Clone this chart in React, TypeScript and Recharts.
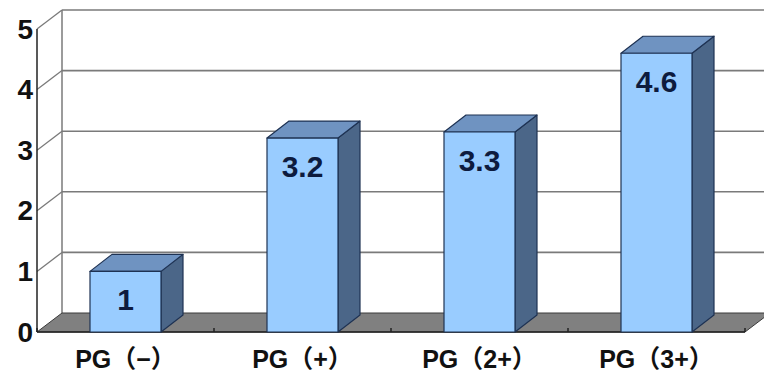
import React from "react";
import { BarChart, Bar, XAxis, YAxis, CartesianGrid, LabelList } from "recharts";

// values
const categories = ["PG（−）", "PG（+）", "PG（2+）", "PG（3+）"];
const values = [1, 3.2, 3.3, 4.6];
const yTicks = [0, 1, 2, 3, 4, 5];

const data = categories.map((name, i) => ({ name, value: values[i] }));

const W = 764;
const H = 376;
const MARGIN = { top: 29, right: 19, bottom: 0, left: 0 };
const X_AXIS_H = 44;

// depth offsets (back wall vs. bars)
const WALL_DX = 25;
const WALL_DY = 19;
const BAR_DX = 22;
const BAR_DY = 17;

const COLORS = {
  front: "#99ccff",
  top: "#6f93c1",
  side: "#4b6688",
  edge: "#1e3253",
  grid: "#7a7a7a",
  floor: "#808080",
  floorEdge: "#3a3a3a",
  label: "#0d1b3e",
};

const FONT = "'Liberation Sans', 'Noto Sans CJK JP', Arial, sans-serif";

const PLOT_TOP = MARGIN.top;
const PLOT_BOTTOM = H - MARGIN.bottom - X_AXIS_H;

// back wall grid line + connector to front axis; floor on the zero line
const GridLine = (props: any) => {
  const { x1, y1, x2, y2 } = props;
  const isFloor = Math.abs(y1 - PLOT_BOTTOM) < 1;
  if (isFloor) {
    const n = categories.length;
    const step = (x2 - x1) / n;
    return (
      <g>
        <line
          x1={x1 + WALL_DX}
          y1={PLOT_TOP - WALL_DY}
          x2={x1 + WALL_DX}
          y2={y1 - WALL_DY}
          stroke={COLORS.grid}
          strokeWidth={1.5}
        />
        <polygon
          points={`${x1},${y1} ${x2},${y2} ${x2 + WALL_DX},${y2 - WALL_DY} ${x1 + WALL_DX},${y1 - WALL_DY}`}
          fill={COLORS.floor}
          stroke={COLORS.floorEdge}
          strokeWidth={1}
        />
        <line x1={x1} y1={y1} x2={x2} y2={y2} stroke="#222" strokeWidth={1.5} />
        {Array.from({ length: n + 1 }, (_, i) => (
          <line
            key={i}
            x1={x1 + i * step}
            y1={y1}
            x2={x1 + i * step}
            y2={y1 - 4}
            stroke="#222"
            strokeWidth={1.5}
          />
        ))}
      </g>
    );
  }
  return (
    <g>
      <line
        x1={x1 + WALL_DX}
        y1={y1 - WALL_DY}
        x2={x2 + WALL_DX}
        y2={y2 - WALL_DY}
        stroke={COLORS.grid}
        strokeWidth={1.6}
      />
      <line
        x1={x1}
        y1={y1}
        x2={x1 + WALL_DX}
        y2={y1 - WALL_DY}
        stroke={COLORS.grid}
        strokeWidth={1.3}
      />
    </g>
  );
};

const Bar3D = (props: any) => {
  const { x, y, width, height } = props;
  const r = x + width;
  const b = y + height;
  return (
    <g stroke={COLORS.edge} strokeWidth={1.2} strokeLinejoin="round">
      <polygon
        points={`${r},${y} ${r + BAR_DX},${y - BAR_DY} ${r + BAR_DX},${b - BAR_DY} ${r},${b}`}
        fill={COLORS.side}
      />
      <polygon
        points={`${x},${y} ${x + BAR_DX},${y - BAR_DY} ${r + BAR_DX},${y - BAR_DY} ${r},${y}`}
        fill={COLORS.top}
      />
      <rect x={x} y={y} width={width} height={height} fill={COLORS.front} />
    </g>
  );
};

const ValueLabel = (props: any) => {
  const { x, y, width, value } = props;
  return (
    <text
      x={x + width / 2}
      y={y + 28}
      textAnchor="middle"
      dominantBaseline="central"
      fill={COLORS.label}
      fontFamily={FONT}
      fontWeight="bold"
      fontSize={30}
    >
      {value}
    </text>
  );
};

const XTick = (props: any) => {
  const { x, y, payload } = props;
  return (
    <text
      x={x}
      y={y + 19}
      textAnchor="middle"
      dominantBaseline="central"
      fill="#111"
      fontFamily={FONT}
      fontWeight="bold"
      fontSize={25}
    >
      {payload.value}
    </text>
  );
};

const YTick = (props: any) => {
  const { y, payload } = props;
  return (
    <text
      x={33}
      y={y}
      textAnchor="end"
      dominantBaseline="central"
      fill="#111"
      fontFamily="'Liberation Sans', Arial, sans-serif"
      fontWeight="bold"
      fontSize={28}
    >
      {payload.value}
    </text>
  );
};

export default function App() {
  return (
    <div style={{ position: "absolute", left: 0, top: 0, background: "#fff" }}>
      <BarChart width={W} height={H} data={data} margin={MARGIN}>
        <CartesianGrid vertical={false} horizontal={GridLine} />
        <XAxis
          dataKey="name"
          height={X_AXIS_H}
          axisLine={false}
          tickLine={false}
          tick={XTick}
          interval={0}
        />
        <YAxis
          domain={[0, 5]}
          ticks={yTicks}
          width={37}
          axisLine={{ stroke: "#222", strokeWidth: 1.5 }}
          tickLine={false}
          tick={YTick}
        />
        <Bar dataKey="value" barSize={71} shape={Bar3D} isAnimationActive={false}>
          <LabelList dataKey="value" content={ValueLabel} />
        </Bar>
      </BarChart>
    </div>
  );
}
